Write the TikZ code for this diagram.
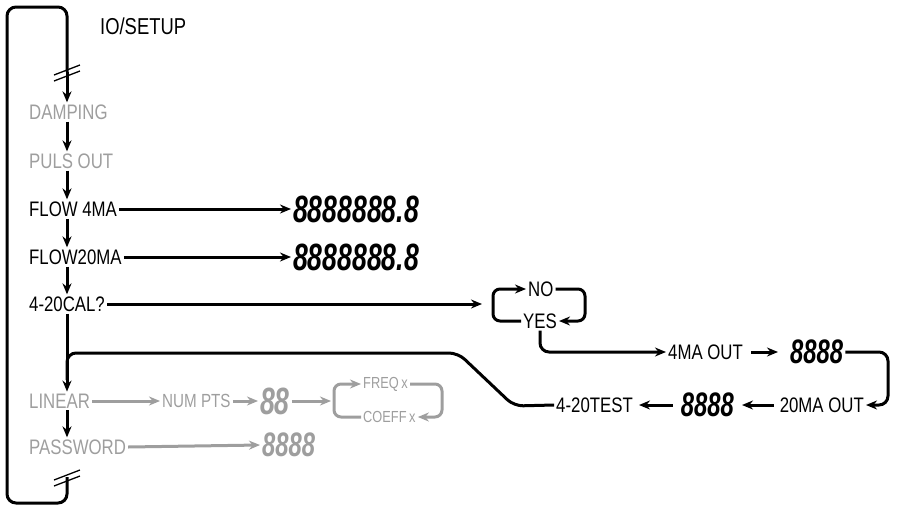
\documentclass[tikz,border=0pt]{standalone}
\usepackage{fontspec}
\usetikzlibrary{arrows.meta}
\newfontfamily\lcdfont[FakeStretch=0.8]{Liberation Sans}
\newfontfamily\segfont[FakeStretch=0.7]{Liberation Sans}
\definecolor{dimgray}{gray}{0.62}
\tikzset{
  lbl/.style={font=\lcdfont\fontsize{21}{21}\selectfont, inner sep=2pt, anchor=west},
  lblsmall/.style={font=\lcdfont\fontsize{16}{16}\selectfont, inner sep=2pt, anchor=west, text=dimgray},
  seg/.style={font=\segfont\bfseries\itshape\fontsize{38}{38}\selectfont, inner sep=2pt, anchor=west},
  segs/.style={font=\segfont\bfseries\itshape\fontsize{34}{34}\selectfont, inner sep=2pt, anchor=west},
  arr/.style={line width=3pt, -{Stealth[length=11pt,width=9pt]}},
  wire/.style={line width=3pt, rounded corners=9pt},
  brk/.style={line width=1.3pt}
}
\begin{document}
\begin{tikzpicture}[x=1pt,y=-1pt]
\useasboundingbox (0,0) rectangle (897,509);
\coordinate (spine) at (67,0);
\node[lbl, font=\lcdfont\fontsize{23}{23}\selectfont] (setup) at (98,26) {IO/SETUP};
\foreach \n/\t/\y/\c in {damp/DAMPING/112/dimgray, puls/PULS OUT/161/dimgray, flowa/FLOW 4MA/209/black, flowb/FLOW20MA/257/black, cal/4-20CAL?/304/black, linear/LINEAR/401/dimgray, pass/PASSWORD/447/dimgray}
  \node[lbl, text=\c] (\n) at (27,\y) {\t};
\draw[wire] (67,72) -- (67,7) -- (7,7) -- (7,503) -- (67,503) -- (67,477);
\foreach \b in {72,477} { \draw[brk] (54,\b+3) -- (80,\b-7); \draw[brk] (54,\b+9) -- (80,\b-1); };
\draw[arr] (67,72) -- (damp.north -| spine);
\foreach \a/\b in {damp/puls, puls/flowa, flowa/flowb, flowb/cal, cal/linear, linear/pass} { \draw[arr] (\a.south -| spine) -- (\b.north -| spine); };
\node[seg] (dispa) at (291,209) {8888888.8}; \draw[arr] (flowa.east) -- (dispa.west);
\node[seg] (dispb) at (291,257) {8888888.8}; \draw[arr] (flowb.east) -- (dispb.west);
\coordinate (calend) at (482,304); \draw[arr] (cal.east) -- (calend);
\node[lbl] (no) at (526,289) {NO}; \node[lbl] (yes) at (521,321) {YES};
\draw[arr, rounded corners=7pt] (yes.west) -- (493,321) -- (493,289) -- (no.west);
\draw[arr, rounded corners=7pt] (no.east) -- (585,289) -- (585,321) -- (yes.east);
\node[lbl] (maa) at (666,352) {4MA OUT};
\draw[arr, rounded corners=9pt] (yes.south) -- (yes.south |- maa) -- (maa.west);
\node[segs] (dispc) at (788,352) {8888};
\draw[arr, shorten <=6pt, shorten >=10pt] (maa.east) -- (dispc.west);
\node[lbl, anchor=east] (mab) at (866,405) {20MA OUT};
\draw[arr, rounded corners=9pt] (dispc.east) -- (888,352) -- (888,405) -- (mab.east);
\node[segs, anchor=east] (dispd) at (736,405) {8888};
\draw[arr, shorten <=4pt, shorten >=6pt] (mab.west) -- (dispd.east);
\node[lbl, anchor=east] (test) at (635,405) {4-20TEST};
\draw[arr, shorten <=6pt, shorten >=4pt] (dispd.west) -- (test.east);
\draw[wire] (test.west) -- (514,406) -- (458,353) -- (67,353) -- (67,380);
\node[lbl, font=\lcdfont\fontsize{19}{19}\selectfont, text=dimgray] (numpts) at (160,401) {NUM PTS};
\draw[arr, dimgray] (linear.east) -- (numpts.west);
\node[seg, text=dimgray] (pts) at (258,401) {88};
\draw[arr, dimgray] (numpts.east) -- (pts.west);
\coordinate (ptsend) at (331,401); \draw[arr, dimgray] (pts.east) -- (ptsend);
\node[lblsmall] (freq) at (361,384) {FREQ\,x}; \node[lblsmall] (coeff) at (361,417) {COEFF\,x};
\draw[arr, dimgray, rounded corners=7pt] (coeff.west) -- (334,417) -- (334,384) -- (freq.west);
\draw[arr, dimgray, rounded corners=7pt] (freq.east) -- (442,384) -- (442,417) -- (coeff.east);
\node[segs, text=dimgray] (pwd) at (260,445) {8888};
\draw[arr, dimgray] (pass.east) -- (pwd.west);
\end{tikzpicture}
\end{document}
